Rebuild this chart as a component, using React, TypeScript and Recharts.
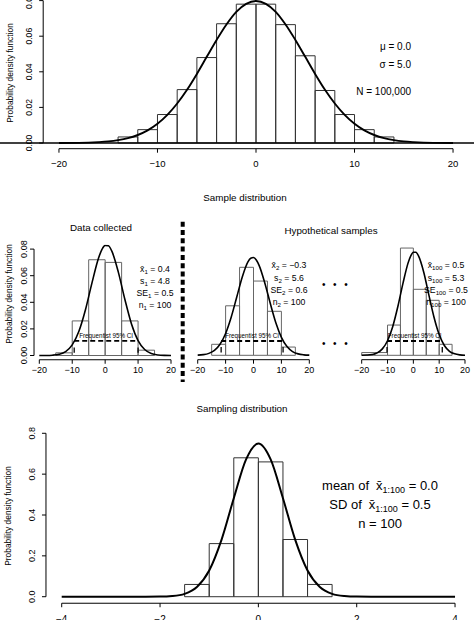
import React from "react";
import { ComposedChart, Line, XAxis, YAxis, ReferenceArea, ReferenceLine } from "recharts";

const FONT = "'Liberation Sans', Arial, Helvetica, sans-serif";
const PAGE_W = 474;
const PAGE_H = 620;
const OFF = 30;
const CH = PAGE_H + 2 * OFF;

// population (mu 0, sigma 5, N 100,000)
const popX = [-20, -18, -16, -15, -14, -13, -12, -11, -10, -9, -8, -7, -6, -5, -4, -3, -2, -1, 0, 1, 2, 3, 4, 5, 6, 7, 8, 9, 10, 11, 12, 13, 14, 15, 16, 18, 20];
const popDensity = [0.00003, 0.0001, 0.0005, 0.0009, 0.0016, 0.0027, 0.0045, 0.0071, 0.0108, 0.0158, 0.0222, 0.0299, 0.0388, 0.0484, 0.0579, 0.0666, 0.0737, 0.0782, 0.0798, 0.0782, 0.0737, 0.0666, 0.0579, 0.0484, 0.0388, 0.0299, 0.0222, 0.0158, 0.0108, 0.0071, 0.0045, 0.0027, 0.0016, 0.0009, 0.0005, 0.0001, 0.00003];
const popBinStart = [-14, -12, -10, -8, -6, -4, -2, 0, 2, 4, 6, 8, 10, 12];
const popBinHeight = [0.0034, 0.0075, 0.016, 0.03, 0.048, 0.067, 0.078, 0.078, 0.0665, 0.049, 0.0295, 0.016, 0.0075, 0.0034];

// samples (n = 100 each)
const sampleX = [-20, -18, -16, -14, -12, -10, -8, -6, -4, -2, -1, 0, 1, 2, 4, 6, 8, 10, 12, 14, 16, 18, 20];
const sample1Density = [0.00001, 0.00005, 0.00024, 0.00092, 0.00295, 0.00795, 0.018, 0.0342, 0.0546, 0.0733, 0.0796, 0.0828, 0.0825, 0.0786, 0.0627, 0.0421, 0.0237, 0.0112, 0.00448, 0.00151, 0.00042, 0.0001, 0.00002];
const sample2Density = [0.00015, 0.00048, 0.0014, 0.00357, 0.00803, 0.0159, 0.0277, 0.0424, 0.0572, 0.068, 0.0706, 0.0711, 0.0693, 0.0654, 0.053, 0.0378, 0.0237, 0.0131, 0.00638, 0.00273, 0.00103, 0.00034, 0.0001];
const sample100Density = [0.00004, 0.00017, 0.00059, 0.00178, 0.00467, 0.01059, 0.0208, 0.0355, 0.0525, 0.0674, 0.0723, 0.075, 0.075, 0.0723, 0.0606, 0.0439, 0.0277, 0.0151, 0.00716, 0.00294, 0.00105, 0.00032, 0.00009];
const sampleBinStart = [-15, -10, -5, 0, 5, 10];
const sample1Height = [0.002, 0.026, 0.072, 0.07, 0.026, 0.004];
const sample2Height = [0.008, 0.036, 0.064, 0.054, 0.032, 0.006];
const sample100BinStart = [-20, -15, -10, -5, 0, 5, 10];
const sample100Height = [0.002, 0.002, 0.022, 0.078, 0.048, 0.04, 0.008];
const sample1CI = [-9.4, 10.0];
const sample2CI = [-11.6, 10.6];
const sample100CI = [-10.2, 11.2];
const ciLevel = [0.011, 0.0104, 0.0104];

const sample1Stats = [["x\u0304", "1", "0.4"], ["s", "1", "4.8"], ["SE", "1", "0.5"], ["n", "1", "100"]];
const sample2Stats = [["x\u0304", "2", "\u22120.3"], ["s", "2", "5.6"], ["SE", "2", "0.6"], ["n", "2", "100"]];
const sample100Stats = [["x\u0304", "100", "0.5"], ["s", "100", "5.3"], ["SE", "100", "0.5"], ["n", "100", "100"]];

// sampling distribution of the 100 means
const meanX = [-4, -3.5, -3, -2.5, -2, -1.75, -1.5, -1.25, -1, -0.75, -0.5, -0.25, 0, 0.25, 0.5, 0.75, 1, 1.25, 1.5, 1.75, 2, 2.5, 3, 3.5, 4];
const meanDensity = [0, 0, 0, 0.00001, 0.0006, 0.0034, 0.0141, 0.0475, 0.128, 0.278, 0.482, 0.672, 0.75, 0.672, 0.482, 0.278, 0.128, 0.0475, 0.0141, 0.0034, 0.0006, 0.00001, 0, 0, 0];
const meanBinStart = [-1.5, -1, -0.5, 0, 0.5, 1];
const meanBinHeight = [0.06, 0.26, 0.68, 0.66, 0.28, 0.06];

const bigTicks = [-20, -10, 0, 10, 20];
const densTicks = [0, 0.02, 0.04, 0.06, 0.08];
const meanTicks = [-4, -2, 0, 2, 4];
const meanDensTicks = [0, 0.2, 0.4, 0.6, 0.8];

type Rect = { left: number; top: number; width: number; height: number };

type PanelProps = {
  rect: Rect;
  xDomain: [number, number];
  yDomain: [number, number];
  xTicks: number[];
  yTicks?: number[];
  yDigits?: number;
  curveX: number[];
  curveY: number[];
  binStart: number[];
  binHeight: number[];
  binWidth: number;
  binStroke: string;
  curveWidth: number;
  xFont: number;
  xDy: number;
  yFont?: number;
  yDx?: number;
  ci?: number[];
  ciY?: number;
  fullBaseline?: [number, number];
};

const minus = (v: number) => (v < 0 ? "\u2212" + Math.abs(v) : String(v));

function Panel(p: PanelProps) {
  const yW = p.yTicks ? 30 : 0;
  const margin = {
    top: p.rect.top + OFF,
    left: p.rect.left - yW,
    right: PAGE_W - p.rect.left - p.rect.width,
    bottom: CH - (p.rect.top + OFF) - p.rect.height - 30,
  };
  const data = p.curveX.map((x, i) => ({ x, y: p.curveY[i] }));
  const xEnds = [p.xTicks[0], p.xTicks[p.xTicks.length - 1]];
  return (
    <div style={{ position: "absolute", left: 0, top: -OFF }}>
      <ComposedChart width={PAGE_W} height={CH} data={data} margin={margin}>
        <XAxis
          type="number"
          dataKey="x"
          domain={p.xDomain}
          allowDataOverflow
          ticks={p.xTicks}
          interval={0}
          axisLine={false}
          tickSize={4}
          tickMargin={0}
          height={30}
          tickLine={{ stroke: "#000", strokeWidth: 1 }}
          tick={(t: any) => (
            <text x={t.x} y={t.y + p.xDy} textAnchor="middle" fontSize={p.xFont} fontFamily={FONT} fill="#000">
              {minus(t.payload.value)}
            </text>
          )}
        />
        <YAxis
          type="number"
          domain={p.yDomain}
          allowDataOverflow
          ticks={p.yTicks}
          interval={0}
          hide={!p.yTicks}
          width={yW}
          axisLine={false}
          tickSize={4}
          tickMargin={0}
          tickLine={{ stroke: "#000", strokeWidth: 1 }}
          tick={(t: any) => {
            const bx = t.x - (p.yDx ?? 0);
            return (
              <text x={bx} y={t.y} transform={`rotate(-90 ${bx} ${t.y})`} textAnchor="middle" fontSize={p.yFont} fontFamily={FONT} fill="#000">
                {Number(t.payload.value).toFixed(p.yDigits ?? 2)}
              </text>
            );
          }}
        />
        {p.fullBaseline && (
          <ReferenceLine
            segment={[{ x: p.fullBaseline[0], y: 0 }, { x: p.fullBaseline[1], y: 0 }]}
            stroke="#000"
            strokeWidth={1.3}
            ifOverflow="visible"
          />
        )}
        {p.binStart.map((s, i) => (
          <ReferenceArea
            key={"b" + i}
            x1={s}
            x2={s + p.binWidth}
            y1={0}
            y2={p.binHeight[i]}
            fill="none"
            fillOpacity={0}
            stroke={p.binStroke}
            strokeWidth={1}
            ifOverflow="visible"
          />
        ))}
        <ReferenceLine
          segment={[{ x: xEnds[0], y: p.yDomain[0] }, { x: xEnds[1], y: p.yDomain[0] }]}
          stroke="#000"
          strokeWidth={1}
          ifOverflow="visible"
        />
        {p.yTicks && (
          <ReferenceLine
            segment={[{ x: p.xDomain[0], y: p.yTicks[0] }, { x: p.xDomain[0], y: p.yTicks[p.yTicks.length - 1] }]}
            stroke="#000"
            strokeWidth={1}
            ifOverflow="visible"
          />
        )}
        {p.ci && p.ciY !== undefined && (
          <ReferenceLine
            segment={[{ x: p.ci[0], y: p.ciY }, { x: p.ci[1], y: p.ciY }]}
            stroke="#000"
            strokeWidth={1.8}
            strokeDasharray="5 3"
            ifOverflow="visible"
            label={{ value: "Frequentist 95% CI", position: "top", offset: 3, fontSize: 6.3, fill: "#000", fontFamily: FONT }}
          />
        )}
        {p.ci &&
          p.ci.map((c, i) => (
            <ReferenceLine
              key={"ci" + i}
              segment={[{ x: c, y: 0.002 }, { x: c, y: 0.006 }]}
              stroke="#000"
              strokeWidth={1.3}
              ifOverflow="visible"
            />
          ))}
        <Line
          dataKey="y"
          type="monotone"
          dot={false}
          activeDot={false}
          stroke="#000"
          strokeWidth={p.curveWidth}
          isAnimationActive={false}
        />
      </ComposedChart>
    </div>
  );
}

function StatBlock({ x, ys, stats }: { x: number; ys: number[]; stats: string[][] }) {
  return (
    <>
      {stats.map((s, i) => (
        <text key={i} x={x} y={ys[i]} textAnchor="middle" fontSize={8.7}>
          {s[0]}
          <tspan fontSize={6.2} dy={2}>{s[1]}</tspan>
          <tspan dy={-2}>{" = " + s[2]}</tspan>
        </text>
      ))}
    </>
  );
}

export default function App() {
  const smallY: [number, number] = [-0.0032, 0.0832];
  return (
    <div
      style={{
        position: "absolute",
        left: 0,
        top: 0,
        width: PAGE_W,
        height: PAGE_H,
        overflow: "hidden",
        background: "#fff",
        fontFamily: FONT,
      }}
    >
      <Panel
        rect={{ left: 43.2, top: -5.1, width: 425.6, height: 153.8 }}
        xDomain={[-21.6, 21.6]}
        yDomain={[-0.0032, 0.0832]}
        xTicks={bigTicks}
        yTicks={densTicks}
        curveX={popX}
        curveY={popDensity}
        binStart={popBinStart}
        binHeight={popBinHeight}
        binWidth={2}
        binStroke="#333"
        curveWidth={1.9}
        xFont={9.5}
        xDy={14}
        yFont={8.6}
        yDx={6.8}
        fullBaseline={[-26, 22.2]}
      />
      <Panel
        rect={{ left: 34.03, top: 244.84, width: 142.24, height: 114.92 }}
        xDomain={[-21.6, 21.6]}
        yDomain={smallY}
        xTicks={bigTicks}
        yTicks={densTicks}
        curveX={sampleX}
        curveY={sample1Density}
        binStart={sampleBinStart}
        binHeight={sample1Height}
        binWidth={5}
        binStroke="#666"
        curveWidth={1.6}
        xFont={9}
        xDy={8.8}
        yFont={9}
        yDx={3.5}
        ci={sample1CI}
        ciY={ciLevel[0]}
      />
      <Panel
        rect={{ left: 193.24, top: 240.9, width: 120.53, height: 118.8 }}
        xDomain={[-21.6, 21.6]}
        yDomain={smallY}
        xTicks={bigTicks}
        curveX={sampleX}
        curveY={sample2Density}
        binStart={sampleBinStart}
        binHeight={sample2Height}
        binWidth={5}
        binStroke="#666"
        curveWidth={1.6}
        xFont={9}
        xDy={8.8}
        ci={sample2CI}
        ciY={ciLevel[1]}
      />
      <Panel
        rect={{ left: 357.57, top: 240.9, width: 111.56, height: 118.8 }}
        xDomain={[-21.6, 21.6]}
        yDomain={smallY}
        xTicks={bigTicks}
        curveX={sampleX}
        curveY={sample100Density}
        binStart={sample100BinStart}
        binHeight={sample100Height}
        binWidth={5}
        binStroke="#666"
        curveWidth={1.6}
        xFont={9}
        xDy={8.8}
        ci={sample100CI}
        ciY={ciLevel[2]}
      />
      <Panel
        rect={{ left: 45.97, top: 426.76, width: 424.8, height: 176.48 }}
        xDomain={[-4.32, 4.32]}
        yDomain={[-0.032, 0.832]}
        xTicks={meanTicks}
        yTicks={meanDensTicks}
        yDigits={1}
        curveX={meanX}
        curveY={meanDensity}
        binStart={meanBinStart}
        binHeight={meanBinHeight}
        binWidth={0.5}
        binStroke="#333"
        curveWidth={2}
        xFont={10}
        xDy={15.3}
        yFont={9}
        yDx={7.1}
      />
      <svg
        width={PAGE_W}
        height={PAGE_H}
        style={{ position: "absolute", left: 0, top: 0 }}
        fontFamily={FONT}
        fill="#000"
      >
        <text transform="translate(13,73) rotate(-90)" textAnchor="middle" fontSize={8.4}>
          Probability density function
        </text>
        <text transform="translate(11.5,294) rotate(-90)" textAnchor="middle" fontSize={8.4}>
          Probability density function
        </text>
        <text transform="translate(11.3,516) rotate(-90)" textAnchor="middle" fontSize={8.4}>
          Probability density function
        </text>

        <text x={411} y={49.6} textAnchor="end" fontSize={10}>{"\u03bc = 0.0"}</text>
        <text x={411} y={67.6} textAnchor="end" fontSize={10}>{"\u03c3 = 5.0"}</text>
        <text x={411} y={94.6} textAnchor="end" fontSize={10}>N = 100,000</text>

        <text x={245} y={200.5} textAnchor="middle" fontSize={9.8}>Sample distribution</text>
        <text x={101} y={231.2} textAnchor="middle" fontSize={9.8}>Data collected</text>
        <text x={331} y={233.5} textAnchor="middle" fontSize={9.8}>Hypothetical samples</text>

        <line x1={182.7} y1={221.7} x2={182.7} y2={382} stroke="#000" strokeWidth={4} strokeDasharray="5 3.3" />

        <StatBlock x={155} ys={[272, 284, 296, 308]} stats={sample1Stats} />
        <StatBlock x={289} ys={[268, 280.7, 293, 305.3]} stats={sample2Stats} />
        <StatBlock x={446} ys={[268, 280.7, 293, 305.3]} stats={sample100Stats} />

        <text x={336} y={288} textAnchor="middle" fontSize={10} letterSpacing={2.4}>{"\u2022 \u2022 \u2022"}</text>
        <text x={336} y={347} textAnchor="middle" fontSize={10} letterSpacing={2.4}>{"\u2022 \u2022 \u2022"}</text>

        <text x={242} y={411.8} textAnchor="middle" fontSize={9.8}>Sampling distribution</text>

        <text x={380} y={489.7} textAnchor="middle" fontSize={13}>
          mean of
          <tspan dx={7}>{"x\u0304"}</tspan>
          <tspan fontSize={9} dy={3}>1:100</tspan>
          <tspan dy={-3}>{" = 0.0"}</tspan>
        </text>
        <text x={380} y={508.7} textAnchor="middle" fontSize={13}>
          SD of
          <tspan dx={7}>{"x\u0304"}</tspan>
          <tspan fontSize={9} dy={3}>1:100</tspan>
          <tspan dy={-3}>{" = 0.5"}</tspan>
        </text>
        <text x={380} y={527.7} textAnchor="middle" fontSize={13}>n = 100</text>
      </svg>
    </div>
  );
}
